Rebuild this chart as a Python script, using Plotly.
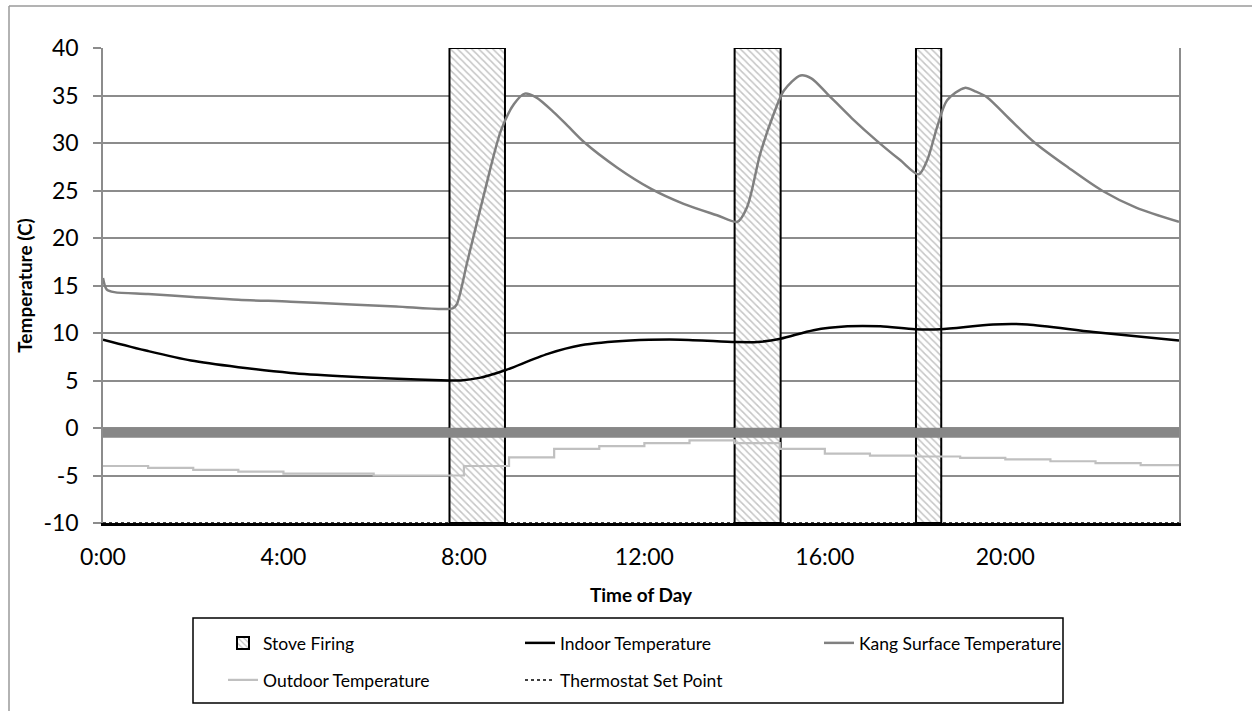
import plotly.graph_objects as go

# --- axis ticks -----------------------------------------------------------
hour_ticks = [0, 4, 8, 12, 16, 20]
hour_labels = ["0:00", "4:00", "8:00", "12:00", "16:00", "20:00"]
temp_ticks = [-10, -5, 0, 5, 10, 15, 20, 25, 30, 35, 40]
temp_labels = ["-10", "-5", "0", "5", "10", "15", "20", "25", "30", "35", "40"]
day_end = 23.85

# --- stove firing periods (hours) -----------------------------------------
firing_start = [7.68, 14.0, 18.02]
firing_end = [8.91, 15.02, 18.58]
firing_bottom = -10
firing_top = 40

# --- kang surface temperature (C) -----------------------------------------
kang_hours = [0.0, 0.08, 0.25, 1.0, 2.0, 3.0, 4.16, 5.5, 6.5, 7.75, 7.84,
              8.08, 8.45, 8.82, 9.11, 9.35, 9.6, 10.0, 10.3, 10.66, 11.4,
              12.14, 12.87, 13.61, 14.06, 14.28, 14.57, 14.87, 15.09, 15.46,
              15.7, 16.05, 16.6, 17.16, 17.67, 18.08, 18.27, 18.49, 18.71,
              19.1, 19.35, 19.6, 20.1, 20.66, 21.4, 22.14, 22.9, 23.85]
kang_temp = [15.8, 14.6, 14.3, 14.1, 13.8, 13.5, 13.3, 13.0, 12.8, 12.6, 13.0,
             17.6, 24.7, 31.3, 34.1, 35.2, 34.8, 33.2, 31.8, 30.1, 27.4,
             25.2, 23.6, 22.4, 21.7, 23.3, 28.9, 33.1, 35.5, 37.1,
             36.8, 35.2, 32.6, 30.2, 28.2, 26.7, 28.2, 31.7, 34.5,
             35.8, 35.4, 34.8, 32.5, 30.0, 27.4, 25.0, 23.2, 21.7]

# --- indoor temperature (C) -----------------------------------------------
indoor_hours = [0.0, 1.0, 1.95, 3.0, 4.16, 5.3, 6.38, 7.66, 7.93, 8.37, 8.6,
                8.93, 9.86, 10.59, 11.69, 12.8, 14.02, 14.51, 15.02, 15.75,
                16.5, 17.23, 18.0, 18.56, 19.73, 20.49, 21.95, 23.85]
indoor_temp = [9.3, 8.1, 7.1, 6.4, 5.8, 5.45, 5.2, 5.0, 5.0, 5.3, 5.6,
               6.1, 7.8, 8.7, 9.2, 9.3, 9.05, 9.05, 9.4, 10.3,
               10.7, 10.7, 10.4, 10.4, 10.9, 10.9, 10.1, 9.2]

# --- outdoor temperature (C), hourly readings -----------------------------
outdoor_hours = list(range(24)) + [day_end]
outdoor_temp = [-4.0, -4.2, -4.4, -4.6, -4.8, -4.8, -5.0, -5.0,
                -4.0, -3.1, -2.2, -1.9, -1.6, -1.3, -1.6, -2.2,
                -2.7, -2.9, -3.0, -3.15, -3.3, -3.5, -3.7, -3.9, -3.9]

# --- thermostat set point (C) ---------------------------------------------
thermostat_hours = [0, day_end]
thermostat_temp = [-10, -10]

# --- freezing reference band (C) ------------------------------------------
freeze_hours = [0, day_end]
freeze_level = [-0.5, -0.5]

FONT = "Lato"

fig = go.Figure()

fig.add_trace(go.Bar(
    name="Stove Firing",
    x=[(s + e) / 2 for s, e in zip(firing_start, firing_end)],
    width=[e - s for s, e in zip(firing_start, firing_end)],
    y=[firing_top - firing_bottom] * len(firing_start),
    base=firing_bottom,
    marker=dict(
        color="white",
        line=dict(color="black", width=2),
        pattern=dict(shape="\\", fgcolor="#8c8c8c", bgcolor="white",
                     size=5, solidity=0.3),
    ),
    legend="legend",
    hoverinfo="skip",
))

fig.add_trace(go.Scatter(
    x=freeze_hours, y=freeze_level, mode="lines",
    line=dict(color="#878787", width=10),
    showlegend=False, hoverinfo="skip",
))

fig.add_trace(go.Scatter(
    name="Indoor Temperature", x=indoor_hours, y=indoor_temp, mode="lines",
    line=dict(color="black", width=2.5, shape="spline", smoothing=0.8),
    legend="legend",
))

fig.add_trace(go.Scatter(
    name="Kang Surface Temperature", x=kang_hours, y=kang_temp, mode="lines",
    line=dict(color="#808080", width=2.5, shape="spline", smoothing=0.8),
    legend="legend3",
))

fig.add_trace(go.Scatter(
    name="Outdoor Temperature", x=outdoor_hours, y=outdoor_temp, mode="lines",
    line=dict(color="#c0c0c0", width=2.2, shape="hv"),
    legend="legend2",
))

fig.add_trace(go.Scatter(
    name="Thermostat Set Point", x=thermostat_hours, y=thermostat_temp,
    mode="lines", line=dict(color="black", width=1.5, dash="dot"),
    legend="legend2",
))

L, R, T, B = 103, 73, 48, 188
W, H = 1252, 711
pw, ph = W - L - R, H - T - B


def px_x(x):
    return (x - L) / pw


def px_y(y):
    return (T + ph - y) / ph


legend_common = dict(
    orientation="h",
    xanchor="left", yanchor="middle",
    entrywidth=252, entrywidthmode="pixels",
    borderwidth=0, bgcolor="rgba(0,0,0,0)",
    font=dict(size=17.5, family=FONT),
    traceorder="normal",
)

fig.update_layout(
    width=W, height=H,
    margin=dict(l=L, r=R, t=T, b=B),
    paper_bgcolor="white", plot_bgcolor="white",
    font=dict(family=FONT, color="black"),
    barmode="overlay",
    showlegend=True,
    legend=dict(legend_common, x=px_x(223), y=px_y(643)),
    legend2=dict(legend_common, x=px_x(223), y=px_y(680)),
    legend3=dict(legend_common, x=px_x(819), y=px_y(643)),
    xaxis=dict(
        range=[0, day_end],
        tickvals=hour_ticks, ticktext=hour_labels,
        showgrid=False, zeroline=False,
        showline=True, linecolor="black", linewidth=2.5,
        ticks="", tickfont=dict(size=23, family=FONT),
        ticklabelstandoff=12,
        title=dict(text="<b>Time of Day</b>", font=dict(size=19, family=FONT),
                   standoff=20),
    ),
    yaxis=dict(
        range=[-10, 40],
        tickvals=temp_ticks, ticktext=temp_labels,
        showgrid=True, gridcolor="#8c8c8c", gridwidth=1.5,
        zeroline=False,
        showline=True, linecolor="#8c8c8c", linewidth=1.5, mirror=True,
        ticks="outside", ticklen=8, tickcolor="#8c8c8c", tickwidth=1.5,
        tickfont=dict(size=23, family=FONT),
        ticklabelstandoff=10,
        title=dict(text="<b>Temperature (C)</b>",
                   font=dict(size=19, family=FONT), standoff=6),
    ),
)

# legend frame
fig.add_shape(type="rect", xref="paper", yref="paper",
              x0=px_x(193), x1=px_x(1063), y0=px_y(703), y1=px_y(618),
              line=dict(color="black", width=1.5), layer="below")

# outer chart frame (top and left edges)
fx = px_x(9)
fy = px_y(6)
fig.add_shape(type="line", xref="paper", yref="paper",
              x0=fx, y0=fy, x1=1.2, y1=fy,
              line=dict(color="#9a9a9a", width=1.5))
fig.add_shape(type="line", xref="paper", yref="paper",
              x0=fx, y0=fy, x1=fx, y1=-0.5,
              line=dict(color="#9a9a9a", width=1.5))

fig.write_html("out.html")
